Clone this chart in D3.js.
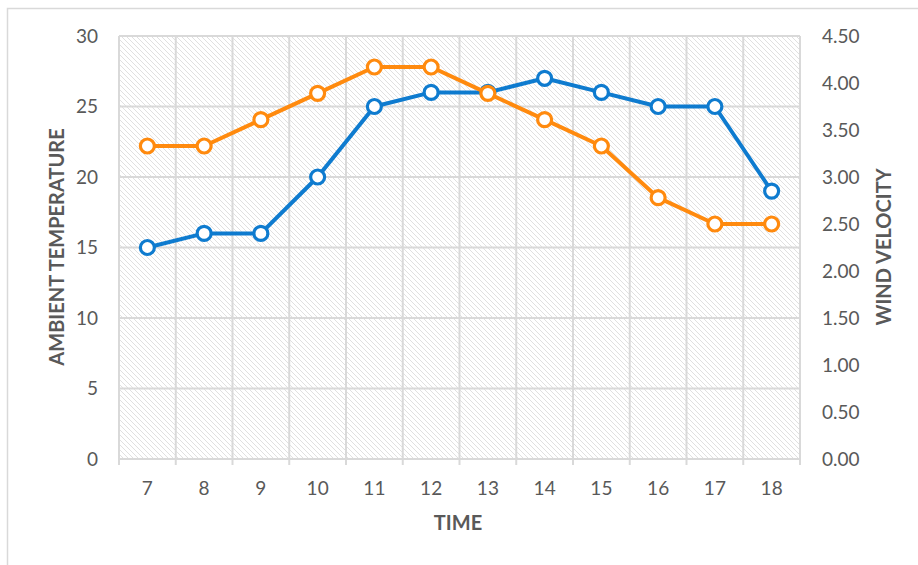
<!DOCTYPE html>
<html>
<head>
<meta charset="utf-8">
<script src="https://cdn.jsdelivr.net/npm/d3@7"></script>
<style>
  html, body { margin: 0; padding: 0; background: #fff; }
  svg { display: block; font-family: Lato, "Open Sans", sans-serif; }
</style>
</head>
<body>
<svg id="chart" width="918" height="565"></svg>
<script>
const categories = [7, 8, 9, 10, 11, 12, 13, 14, 15, 16, 17, 18];
const temperature = [15, 16, 16, 20, 25, 26, 26, 27, 26, 25, 25, 19];
const windVelocity = [3.33, 3.33, 3.61, 3.89, 4.17, 4.17, 3.89, 3.61, 3.33, 2.78, 2.50, 2.50];
const leftTicks = [0, 5, 10, 15, 20, 25, 30];
const rightTicks = [0, 0.5, 1, 1.5, 2, 2.5, 3, 3.5, 4, 4.5];

const svg = d3.select("#chart");
const M = { left: 119, top: 36, right: 800, bottom: 459 };
const gridColor = "#d9d9d9";
const textColor = "#595959";
const blue = "#0e7bcf";
const orange = "#ff8a0e";

// outer chart border
svg.append("rect").attr("x", 7.5).attr("y", 8.5).attr("width", 930).attr("height", 570)
  .attr("fill", "none").attr("stroke", "#d9d9d9").attr("stroke-width", 1.5);

// hatch pattern
const defs = svg.append("defs");
const pat = defs.append("pattern").attr("id", "hatch").attr("patternUnits", "userSpaceOnUse")
  .attr("width", 5).attr("height", 5);
pat.append("rect").attr("width", 5).attr("height", 5).attr("fill", "#ffffff");
pat.append("path").attr("d", "M-1,-1 L6,6 M-1,4 L1,6 M4,-1 L6,1")
  .attr("stroke", "#e0e0e0").attr("stroke-width", 1);

const x = d3.scaleBand().domain(categories).range([M.left, M.right]);
const yL = d3.scaleLinear().domain([0, 30]).range([M.bottom, M.top]);
const yR = d3.scaleLinear().domain([0, 4.5]).range([M.bottom, M.top]);

svg.append("rect").attr("x", M.left).attr("y", M.top)
  .attr("width", M.right - M.left).attr("height", M.bottom - M.top)
  .attr("fill", "url(#hatch)");

// horizontal gridlines
svg.append("g").selectAll("line").data(leftTicks).join("line")
  .attr("x1", M.left).attr("x2", M.right)
  .attr("y1", d => yL(d)).attr("y2", d => yL(d))
  .attr("stroke", gridColor).attr("stroke-width", 2);

// vertical gridlines at category boundaries (plus ticks below axis)
const bounds = categories.map(c => x(c)).concat([M.right]);
svg.append("g").selectAll("line").data(bounds).join("line")
  .attr("x1", d => d).attr("x2", d => d)
  .attr("y1", M.top).attr("y2", M.bottom + 6)
  .attr("stroke", gridColor).attr("stroke-width", 2);

// left axis labels
const axL = d3.axisLeft(yL).tickValues(leftTicks).tickSize(0).tickPadding(21);
const gL = svg.append("g").attr("transform", `translate(${M.left},0)`).call(axL);
gL.select(".domain").remove();
gL.selectAll("text").attr("font-size", 19).attr("fill", textColor).attr("font-family", "Lato, sans-serif");

// right axis labels
const axR = d3.axisRight(yR).tickValues(rightTicks).tickSize(0).tickPadding(22).tickFormat(d3.format(".2f"));
const gR = svg.append("g").attr("transform", `translate(${M.right},0)`).call(axR);
gR.select(".domain").remove();
gR.selectAll("text").attr("font-size", 19).attr("fill", textColor).attr("font-family", "Lato, sans-serif");

// bottom axis labels
const axB = d3.axisBottom(x).tickSize(0).tickPadding(23);
const gB = svg.append("g").attr("transform", `translate(0,${M.bottom})`).call(axB);
gB.select(".domain").remove();
gB.selectAll("text").attr("font-size", 19).attr("fill", textColor).attr("font-family", "Lato, sans-serif");

// axis titles
svg.append("text").attr("x", 458).attr("y", 530).attr("text-anchor", "middle")
  .attr("font-size", 20).attr("font-weight", "bold").attr("fill", textColor).text("TIME");
svg.append("text").attr("transform", "translate(64,247) rotate(-90)").attr("text-anchor", "middle")
  .attr("font-size", 20).attr("font-weight", "bold").attr("fill", textColor).text("AMBIENT TEMPERATURE");
svg.append("text").attr("transform", "translate(891,247) rotate(-90)").attr("text-anchor", "middle")
  .attr("font-size", 20).attr("font-weight", "bold").attr("fill", textColor).text("WIND VELOCITY");

const cx = c => x(c) + x.bandwidth() / 2;

function drawSeries(values, yScale, color) {
  const pts = categories.map((c, i) => [cx(c), yScale(values[i])]);
  svg.append("path").datum(pts).attr("d", d3.line())
    .attr("fill", "none").attr("stroke", color).attr("stroke-width", 4)
    .attr("stroke-linejoin", "round");
  svg.append("g").selectAll("circle").data(pts).join("circle")
    .attr("cx", d => d[0]).attr("cy", d => d[1]).attr("r", 7)
    .attr("fill", "#fff").attr("stroke", color).attr("stroke-width", 3.2);
}

drawSeries(temperature, yL, blue);
drawSeries(windVelocity, yR, orange);
</script>
</body>
</html>
